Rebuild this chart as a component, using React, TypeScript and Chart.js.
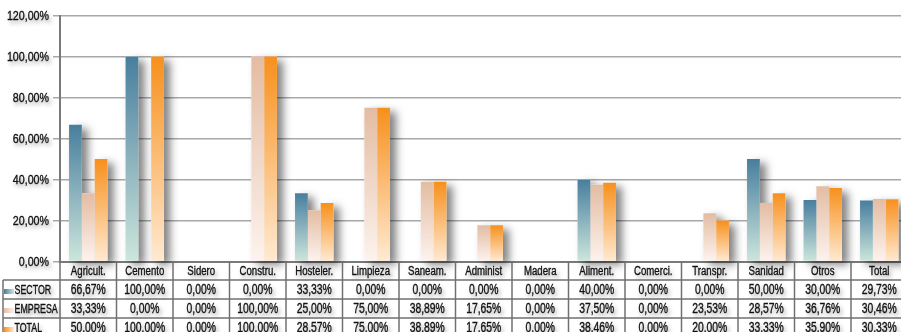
import React, { useEffect, useRef } from "react";
import { Chart, registerables } from "chart.js";

Chart.register(...registerables);

const categories = ["Agricult.", "Cemento", "Sidero", "Constru.", "Hosteler.", "Limpieza", "Saneam.", "Administ", "Madera", "Aliment.", "Comerci.", "Transpr.", "Sanidad", "Otros", "Total"];
const sector = [66.67, 100, 0, 0, 33.33, 0, 0, 0, 0, 40, 0, 0, 50, 30, 29.73];
const empresa = [33.33, 0, 0, 100, 25, 75, 38.89, 17.65, 0, 37.5, 0, 23.53, 28.57, 36.76, 30.46];
const total = [50, 100, 0, 100, 28.57, 75, 38.89, 17.65, 0, 38.46, 0, 20, 33.33, 35.9, 30.33];
const seriesNames = ["SECTOR", "EMPRESA", "TOTAL"];
const yTicks = [0, 20, 40, 60, 80, 100, 120];

const colorsTop = ["#487e9e", "#e3bca2", "#f7901c"];
const colorsBottom = ["#cde6dc", "#fdf3ee", "#ffead2"];

const FONT = '"Liberation Sans", Arial, sans-serif';

const fmt = (v: number) => v.toFixed(2).replace(".", ",") + "%";

function gradientFor(i: number) {
  return (c: any) => {
    const chart = c.chart;
    const area = chart.chartArea;
    if (!area || c.type !== "data") return colorsTop[i];
    const v = c.raw as number;
    const ys = chart.scales.y;
    const top = ys.getPixelForValue(v);
    const bot = ys.getPixelForValue(0);
    if (bot - top < 1) return colorsTop[i];
    const g = chart.ctx.createLinearGradient(0, top, 0, bot);
    g.addColorStop(0, colorsTop[i]);
    g.addColorStop(1, colorsBottom[i]);
    return g;
  };
}

function drawText(ctx: CanvasRenderingContext2D, text: string, x: number, y: number, align: CanvasTextAlign, size: number, sx: number) {
  ctx.save();
  ctx.font = size + "px " + FONT;
  ctx.textAlign = align;
  ctx.textBaseline = "middle";
  ctx.translate(x, y);
  ctx.scale(sx, 1);
  ctx.fillText(text, 0, 0);
  ctx.shadowColor = "transparent";
  ctx.lineWidth = 0.35;
  ctx.strokeStyle = "#111";
  ctx.strokeText(text, 0, 0);
  ctx.restore();
}

function setTextShadow(ctx: CanvasRenderingContext2D) {
  ctx.shadowColor = "rgba(0,0,0,0.45)";
  ctx.shadowBlur = 4;
  ctx.shadowOffsetX = 2;
  ctx.shadowOffsetY = 3;
}

const shadowPlugin = {
  id: "barShadows",
  beforeDatasetsDraw(chart: any) {
    const ctx = chart.ctx;
    ctx.save();
    ctx.shadowColor = "rgba(0,0,0,0.5)";
    ctx.shadowBlur = 8;
    ctx.shadowOffsetX = 6;
    ctx.shadowOffsetY = 4;
    ctx.fillStyle = "#ffffff";
    chart.data.datasets.forEach((_: any, di: number) => {
      const meta = chart.getDatasetMeta(di);
      meta.data.forEach((el: any) => {
        const p = el.getProps(["x", "y", "base", "width"], true);
        const h = Math.abs(p.base - p.y);
        if (h < 0.5) return;
        ctx.fillRect(p.x - p.width / 2, Math.min(p.y, p.base), p.width, h);
      });
    });
    ctx.restore();
  },
  afterDraw(chart: any) {
    const ctx = chart.ctx;
    const xs = chart.scales.x;
    const ys = chart.scales.y;
    const area = chart.chartArea;
    const H = chart.height;
    const half = (xs.getPixelForValue(1) - xs.getPixelForValue(0)) / 2;
    const catTop = area.bottom;
    const catBottom = catTop + 18.5;
    const rowH = 19;
    const data = [sector, empresa, total];

    ctx.save();
    ctx.strokeStyle = "#707070";
    ctx.lineWidth = 1.5;
    for (let i = 0; i <= categories.length; i++) {
      const x = i < categories.length ? xs.getPixelForValue(i) - half : xs.getPixelForValue(categories.length - 1) + half;
      ctx.beginPath();
      ctx.moveTo(x, catTop);
      ctx.lineTo(x, H);
      ctx.stroke();
    }
    for (let r = 0; r < 3; r++) {
      const y = catBottom + r * rowH;
      ctx.beginPath();
      ctx.moveTo(3, y);
      ctx.lineTo(area.right, y);
      ctx.stroke();
    }
    ctx.beginPath();
    ctx.moveTo(3, catBottom);
    ctx.lineTo(3, H);
    ctx.stroke();

    setTextShadow(ctx);
    ctx.fillStyle = "#111";
    ys.ticks.forEach((t: any) => {
      drawText(ctx, fmt(t.value), area.left - 11, ys.getPixelForValue(t.value) + 1, "right", 13.5, 0.79);
    });
    categories.forEach((c, i) => {
      drawText(ctx, c, xs.getPixelForValue(i), (catTop + catBottom) / 2 + 1, "center", 12.5, 0.77);
    });
    data.forEach((arr, r) => {
      const yc = catBottom + r * rowH + rowH / 2 + 0.5;
      arr.forEach((v, i) => {
        drawText(ctx, fmt(v), xs.getPixelForValue(i), yc, "center", 14, 0.74);
      });
    });
    seriesNames.forEach((name, r) => {
      const rowTop = catBottom + r * rowH;
      ctx.save();
      ctx.shadowColor = "transparent";
      const g = ctx.createLinearGradient(4, 0, 14, 0);
      g.addColorStop(0, colorsTop[r]);
      g.addColorStop(1, colorsBottom[r]);
      ctx.fillStyle = g;
      ctx.fillRect(4, rowTop + 9, 10, 5);
      ctx.restore();
      drawText(ctx, name, 14.5, rowTop + rowH / 2 + 0.5, "left", 13, 0.68);
    });
    ctx.restore();
  },
};

export default function App() {
  const ref = useRef<HTMLCanvasElement>(null);
  useEffect(() => {
    if (!ref.current) return;
    const chart = new Chart(ref.current, {
      type: "bar",
      data: {
        labels: categories,
        datasets: [sector, empresa, total].map((d, i) => ({
          label: seriesNames[i],
          data: d,
          backgroundColor: gradientFor(i),
          borderWidth: 0,
          categoryPercentage: 0.68,
          barPercentage: 1.0,
        })),
      },
      options: {
        animation: false,
        responsive: false,
        devicePixelRatio: 1,
        layout: { padding: { top: 15.5, right: 0.5, left: 0, bottom: 0 } },
        plugins: { legend: { display: false }, tooltip: { enabled: false } },
        scales: {
          x: {
            grid: { display: false },
            ticks: { display: false },
            border: { display: true, color: "#7a7a7a", width: 2 },
            afterFit: (s: any) => {
              s.height = 70.5;
            },
          },
          y: {
            min: 0,
            max: 120,
            afterBuildTicks: (s: any) => {
              s.ticks = yTicks.map((v) => ({ value: v }));
            },
            ticks: { display: false },
            grid: { color: "#a8a8a8", lineWidth: 1.5, tickLength: 7, drawTicks: true },
            border: { display: true, color: "#7a7a7a", width: 2 },
            afterFit: (s: any) => {
              s.width = 60;
            },
          },
        },
      },
      plugins: [shadowPlugin],
    });
    return () => chart.destroy();
  }, []);
  return (
    <div style={{ position: "absolute", left: 0, top: 0, width: 901, height: 332, overflow: "hidden", background: "#fff" }}>
      <canvas ref={ref} width={908} height={332} style={{ display: "block" }} />
    </div>
  );
}
